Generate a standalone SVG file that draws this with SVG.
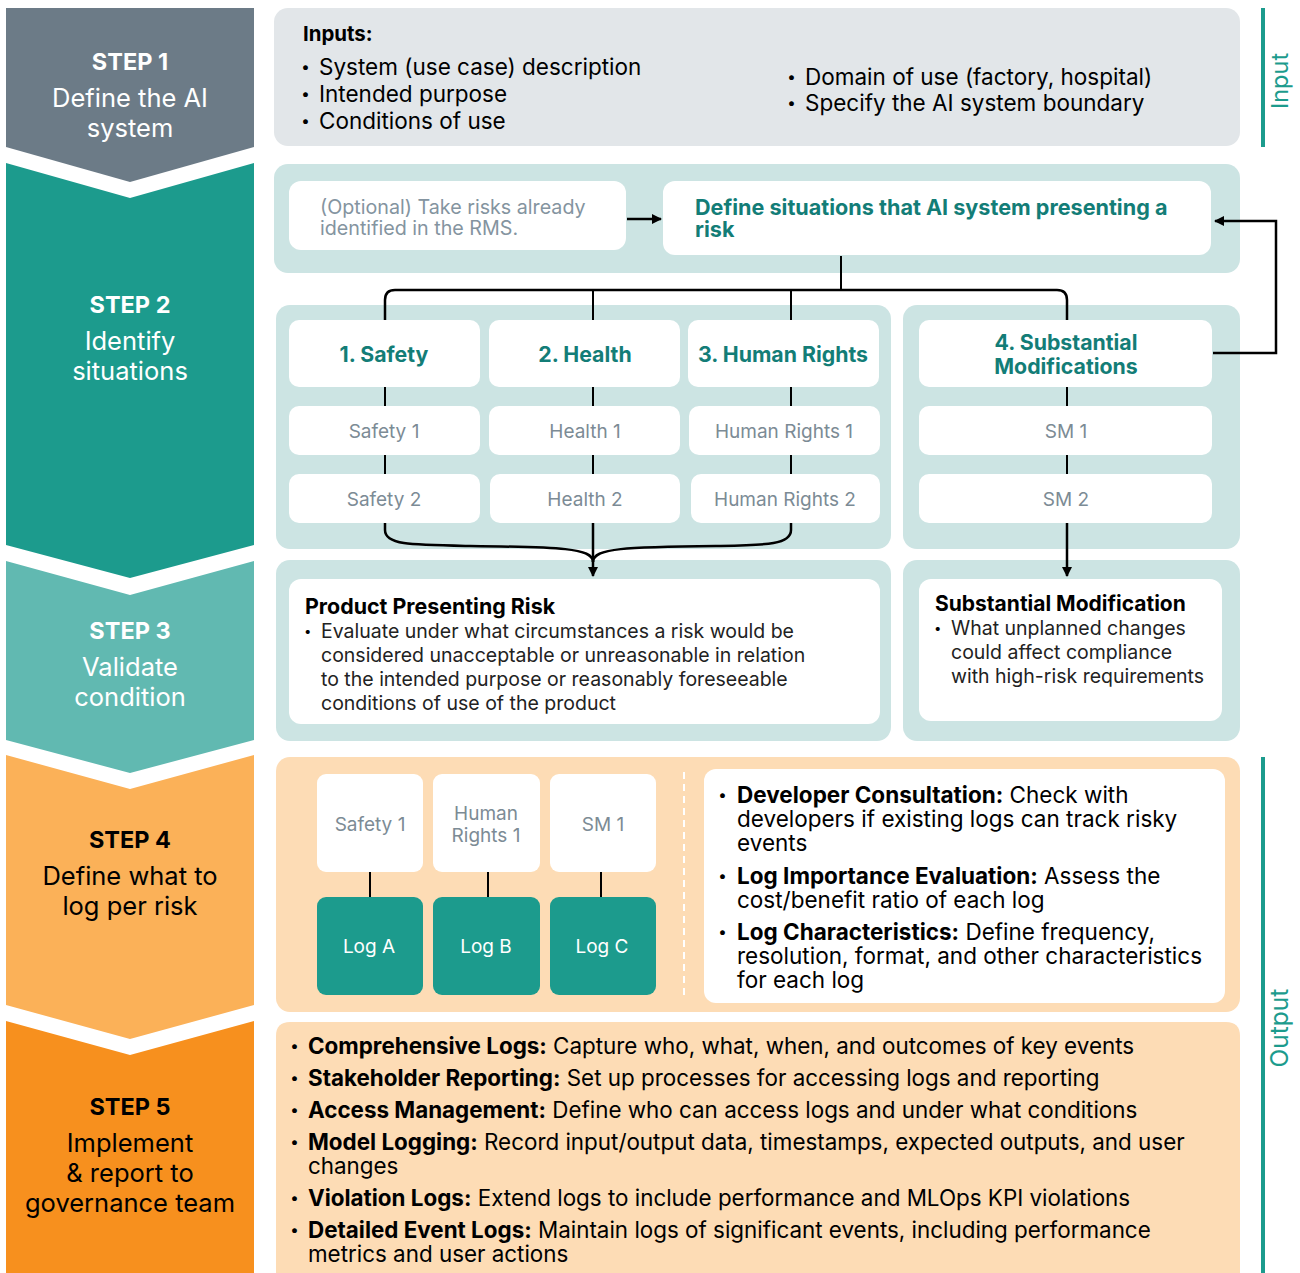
<svg xmlns="http://www.w3.org/2000/svg" width="1300" height="1273" viewBox="0 0 1300 1273">
<defs>
<marker id="ah" viewBox="0 0 10 10" refX="9" refY="5" markerWidth="10" markerHeight="10" markerUnits="userSpaceOnUse" orient="auto">
<path d="M0,0 L10,5 L0,10 z" fill="#000"/>
</marker>
<style>
text{font-family:Inter,"Noto Sans","Liberation Sans",sans-serif}
.st{font-weight:700;font-size:23.5px;text-anchor:middle}
.sl{font-size:25.5px;text-anchor:middle}
.w{fill:#fff}
.k{fill:#000}
.panelT{fill:#cce4e3}
.box{fill:#fff}
.hd{font-weight:700;font-size:21.3px;fill:#137d77;text-anchor:middle}
.sub{font-size:19px;fill:#7c8b95;text-anchor:middle}
.body{font-size:22.5px;fill:#000}
.b5{font-size:22.4px;fill:#000}
.sm{font-size:19.5px;fill:#222}
.b{font-weight:700}
.dot{font-weight:900;fill:#000}
.con{fill:none;stroke:#000;stroke-width:2.5}
.thin{fill:none;stroke:#000;stroke-width:2}
</style>
</defs>

<g id="steps">
<g id="step1">
<polygon points="6,8 254,8 254,147 130,182 6,147" fill="#6c7b87"/>
<text class="st w" x="130" y="70">STEP 1</text>
<text class="sl w" x="130" y="107">Define the AI</text>
<text class="sl w" x="130" y="137">system</text>
</g>
<g id="step2">
<polygon points="6,163 130,198 254,163 254,545 130,578 6,545" fill="#1c9b8d"/>
<text class="st w" x="130" y="313">STEP 2</text>
<text class="sl w" x="130" y="350">Identify</text>
<text class="sl w" x="130" y="380">situations</text>
</g>
<g id="step3">
<polygon points="6,561 130,595 254,561 254,740 130,773 6,740" fill="#61b9b1"/>
<text class="st w" x="130" y="639">STEP 3</text>
<text class="sl w" x="130" y="676">Validate</text>
<text class="sl w" x="130" y="706">condition</text>
</g>
<g id="step4">
<polygon points="6,755 130,789 254,755 254,1005 130,1039 6,1005" fill="#fbb158"/>
<text class="st k" x="130" y="848">STEP 4</text>
<text class="sl k" x="130" y="885">Define what to</text>
<text class="sl k" x="130" y="915">log per risk</text>
</g>
<g id="step5">
<polygon points="6,1021 130,1055 254,1021 254,1273 6,1273" fill="#f7901e"/>
<text class="st k" x="130" y="1115">STEP 5</text>
<text class="sl k" x="130" y="1152">Implement</text>
<text class="sl k" x="130" y="1182">&amp; report to</text>
<text class="sl k" x="130" y="1212">governance team</text>
</g>
</g>

<g id="side-labels">
<rect x="1261" y="8" width="4" height="139" fill="#1c9b8d"/>
<text x="1288" y="81" transform="rotate(-90 1288 81)" font-size="23.5" fill="#1c9b8d" text-anchor="middle">Input</text>
<rect x="1261" y="757" width="4" height="516" fill="#1c9b8d"/>
<text x="1288" y="1028" transform="rotate(-90 1288 1028)" font-size="24.5" fill="#1c9b8d" text-anchor="middle">Output</text>
</g>

<g id="inputs">
<rect x="274" y="8" width="966" height="138" rx="14" fill="#e2e6e9"/>
<text class="b" x="303" y="41" font-size="20.4" fill="#000">Inputs:</text>
<text class="dot" x="301" y="76" font-size="24">·</text><text class="body" x="319" y="75">System (use case) description</text>
<text class="dot" x="301" y="103" font-size="24">·</text><text class="body" x="319" y="102">Intended purpose</text>
<text class="dot" x="301" y="130" font-size="24">·</text><text class="body" x="319" y="129">Conditions of use</text>
<text class="dot" x="787" y="86" font-size="24">·</text><text class="body" x="805" y="85">Domain of use (factory, hospital)</text>
<text class="dot" x="787" y="112" font-size="24">·</text><text class="body" x="805" y="111">Specify the AI system boundary</text>
</g>

<g id="step2-panels">
<rect x="274" y="164" width="966" height="109" rx="14" class="panelT"/>
<rect x="276" y="305" width="615" height="244" rx="14" class="panelT"/>
<rect x="903" y="305" width="337" height="244" rx="14" class="panelT"/>
</g>

<g id="optional">
<rect x="289" y="181" width="337" height="69" rx="12" class="box"/>
<text x="320" y="214" font-size="19.7" fill="#8494a0">(Optional) Take risks already</text>
<text x="320" y="235" font-size="19.7" fill="#8494a0">identified in the RMS.</text>
</g>
<g id="define">
<rect x="663" y="181" width="548" height="74" rx="12" class="box"/>
<text x="695" y="215" font-size="21.6" font-weight="700" fill="#137d77">Define situations that AI system presenting a</text>
<text x="695" y="237" font-size="21.6" font-weight="700" fill="#137d77">risk</text>
</g>

<g id="safety"><rect x="289" y="320" width="191" height="67" rx="10" class="box"/><text class="hd" x="384" y="362">1. Safety</text></g>
<g id="health"><rect x="489" y="320" width="191" height="67" rx="10" class="box"/><text class="hd" x="585" y="362">2. Health</text></g>
<g id="human-rights"><rect x="688" y="320" width="191" height="67" rx="10" class="box"/><text class="hd" x="783" y="362">3. Human Rights</text></g>
<g id="substantial-mod"><rect x="919" y="320" width="293" height="67" rx="10" class="box"/><text class="hd" x="1066" y="350">4. Substantial</text><text class="hd" x="1066" y="374">Modifications</text></g>

<g id="safety1"><rect x="289" y="406" width="191" height="49" rx="10" class="box"/><text class="sub" x="384" y="438">Safety 1</text></g>
<g id="health1"><rect x="489" y="406" width="191" height="49" rx="10" class="box"/><text class="sub" x="585" y="438">Health 1</text></g>
<g id="hr1"><rect x="689" y="406" width="191" height="49" rx="10" class="box"/><text class="sub" x="784" y="438">Human Rights 1</text></g>
<g id="sm1"><rect x="919" y="406" width="293" height="49" rx="10" class="box"/><text class="sub" x="1066" y="438">SM 1</text></g>

<g id="safety2"><rect x="289" y="474" width="191" height="49" rx="10" class="box"/><text class="sub" x="384" y="506">Safety 2</text></g>
<g id="health2"><rect x="490" y="474" width="190" height="49" rx="10" class="box"/><text class="sub" x="585" y="506">Health 2</text></g>
<g id="hr2"><rect x="691" y="474" width="189" height="49" rx="10" class="box"/><text class="sub" x="785" y="506">Human Rights 2</text></g>
<g id="sm2"><rect x="919" y="474" width="293" height="49" rx="10" class="box"/><text class="sub" x="1066" y="506">SM 2</text></g>

<g id="step3-panels">
<rect x="276" y="560" width="615" height="181" rx="14" class="panelT"/>
<rect x="903" y="560" width="337" height="181" rx="14" class="panelT"/>
</g>
<g id="product-risk">
<rect x="289" y="579" width="591" height="145" rx="12" class="box"/>
<text x="305" y="614" font-size="21.4" font-weight="700" fill="#000">Product Presenting Risk</text>
<text class="dot" x="304" y="639" font-size="20">·</text>
<text class="sm" x="321" y="638">Evaluate under what circumstances a risk would be</text>
<text class="sm" x="321" y="662">considered unacceptable or unreasonable in relation</text>
<text class="sm" x="321" y="686">to the intended purpose or reasonably foreseeable</text>
<text class="sm" x="321" y="710">conditions of use of the product</text>
</g>
<g id="substantial-modification">
<rect x="919" y="579" width="303" height="142" rx="12" class="box"/>
<text x="935" y="611" font-size="21" font-weight="700" fill="#000">Substantial Modification</text>
<text class="dot" x="934" y="636" font-size="20">·</text>
<text class="sm" x="951" y="635">What unplanned changes</text>
<text class="sm" x="951" y="659">could affect compliance</text>
<text class="sm" x="951" y="683">with high-risk requirements</text>
</g>

<g id="step4-panel">
<rect x="276" y="757" width="964" height="255" rx="14" fill="#fddcb5"/>
<line x1="684" y1="772" x2="684" y2="998" stroke="#fff" stroke-width="2" stroke-dasharray="7,5"/>
</g>
<g id="s4-safety1"><rect x="317" y="774" width="106" height="98" rx="9" class="box"/><text class="sub" x="370" y="831">Safety 1</text></g>
<g id="s4-hr1"><rect x="433" y="774" width="107" height="98" rx="9" class="box"/><text class="sub" x="486" y="820">Human</text><text class="sub" x="486" y="842">Rights 1</text></g>
<g id="s4-sm1"><rect x="550" y="774" width="106" height="98" rx="9" class="box"/><text class="sub" x="603" y="831">SM 1</text></g>
<g id="log-a"><rect x="317" y="897" width="106" height="98" rx="9" fill="#1c9b8d"/><text x="369" y="953" font-size="19" fill="#fff" text-anchor="middle">Log A</text></g>
<g id="log-b"><rect x="433" y="897" width="107" height="98" rx="9" fill="#1c9b8d"/><text x="486" y="953" font-size="19" fill="#fff" text-anchor="middle">Log B</text></g>
<g id="log-c"><rect x="550" y="897" width="106" height="98" rx="9" fill="#1c9b8d"/><text x="602" y="953" font-size="19" fill="#fff" text-anchor="middle">Log C</text></g>
<g id="log-guidance">
<rect x="704" y="769" width="521" height="234" rx="12" class="box"/>
<text class="dot" x="718" y="804" font-size="24">·</text>
<text class="body" x="737" y="803"><tspan class="b">Developer Consultation:</tspan> Check with</text>
<text class="body" x="737" y="827">developers if existing logs can track risky</text>
<text class="body" x="737" y="851">events</text>
<text class="dot" x="718" y="885" font-size="24">·</text>
<text class="body" x="737" y="884"><tspan class="b">Log Importance Evaluation:</tspan> Assess the</text>
<text class="body" x="737" y="908">cost/benefit ratio of each log</text>
<text class="dot" x="718" y="941" font-size="24">·</text>
<text class="body" x="737" y="940"><tspan class="b">Log Characteristics:</tspan> Define frequency,</text>
<text class="body" x="737" y="964">resolution, format, and other characteristics</text>
<text class="body" x="737" y="988">for each log</text>
</g>

<g id="step5-panel">
<path d="M276,1273 V1036 Q276,1022 290,1022 H1226 Q1240,1022 1240,1036 V1273 Z" fill="#fddcb5"/>
<text class="dot" x="290" y="1055" font-size="24">·</text>
<text class="b5" x="308" y="1054"><tspan class="b">Comprehensive Logs:</tspan> Capture who, what, when, and outcomes of key events</text>
<text class="dot" x="290" y="1087" font-size="24">·</text>
<text class="b5" x="308" y="1086"><tspan class="b">Stakeholder Reporting:</tspan> Set up processes for accessing logs and reporting</text>
<text class="dot" x="290" y="1119" font-size="24">·</text>
<text class="b5" x="308" y="1118"><tspan class="b">Access Management:</tspan> Define who can access logs and under what conditions</text>
<text class="dot" x="290" y="1151" font-size="24">·</text>
<text class="b5" x="308" y="1150"><tspan class="b">Model Logging:</tspan> Record input/output data, timestamps, expected outputs, and user</text>
<text class="b5" x="308" y="1174">changes</text>
<text class="dot" x="290" y="1207" font-size="24">·</text>
<text class="b5" x="308" y="1206"><tspan class="b">Violation Logs:</tspan> Extend logs to include performance and MLOps KPI violations</text>
<text class="dot" x="290" y="1239" font-size="24">·</text>
<text class="b5" x="308" y="1238"><tspan class="b">Detailed Event Logs:</tspan> Maintain logs of significant events, including performance</text>
<text class="b5" x="308" y="1262">metrics and user actions</text>
</g>

<g id="connectors">
<line class="con" x1="627" y1="219" x2="661" y2="219" marker-end="url(#ah)"/>
<line class="thin" x1="841" y1="256" x2="841" y2="290"/>
<path class="con" d="M385,320 V300 Q385,290 395,290 H1057 Q1067,290 1067,300 V320"/>
<line class="thin" x1="593" y1="290" x2="593" y2="320"/>
<line class="thin" x1="791" y1="290" x2="791" y2="320"/>
<g class="thin">
<line x1="385" y1="387" x2="385" y2="406"/><line x1="385" y1="455" x2="385" y2="474"/>
<line x1="593" y1="387" x2="593" y2="406"/><line x1="593" y1="455" x2="593" y2="474"/>
<line x1="791" y1="387" x2="791" y2="406"/><line x1="791" y1="455" x2="791" y2="474"/>
<line x1="1067" y1="387" x2="1067" y2="406"/><line x1="1067" y1="455" x2="1067" y2="474"/>
<line x1="370" y1="872" x2="370" y2="897"/><line x1="488" y1="872" x2="488" y2="897"/><line x1="601" y1="872" x2="601" y2="897"/>
</g>
<path class="con" d="M385,523 V530 C385,545 410,545 470,546 C560,547 593,548 593,562"/>
<path class="con" d="M791,523 V530 C791,545 766,545 716,546 C626,547 593,548 593,562"/>
<line class="con" x1="593" y1="523" x2="593" y2="576" marker-end="url(#ah)"/>
<line class="con" x1="1067" y1="523" x2="1067" y2="576" marker-end="url(#ah)"/>
<path class="con" d="M1213,353 H1276 V221 H1215" marker-end="url(#ah)"/>
</g>
</svg>
